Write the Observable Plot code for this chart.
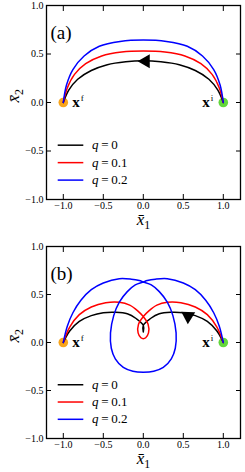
<!DOCTYPE html>
<html>
<head>
<meta charset="utf-8">
<script src="https://cdn.jsdelivr.net/npm/d3@7"></script>
<script src="https://cdn.jsdelivr.net/npm/@observablehq/plot@0.6"></script>
<style>
  html, body { margin: 0; padding: 0; background: white; }
  #chart { width: 245px; }
  #chart svg { display: block; }
  #chart svg text { font-family: "Liberation Serif", "DejaVu Serif", serif !important; }
</style>
</head>
<body>
<div id="chart"></div>
<script>
// ---------- data ----------
const xTicks = [-1, -0.5, 0, 0.5, 1];
const yTicks = [-1, -0.5, 0, 0.5, 1];
const qLabels = ["q = 0", "q = 0.1", "q = 0.2"];
const qColors = ["black", "red", "blue"];
const panelLabels = ["(a)", "(b)"];

// panel (a) trajectories [x1, x2]
const a_q0 = [[1,0],[0.93,0.13],[0.82,0.24],[0.65,0.33],[0.45,0.39],[0.22,0.42],[0,0.43],[-0.22,0.42],[-0.45,0.39],[-0.65,0.33],[-0.82,0.24],[-0.93,0.13],[-1,0]];
const a_q1 = [[1,0],[0.95,0.15],[0.86,0.29],[0.72,0.40],[0.52,0.48],[0.27,0.52],[0,0.53],[-0.27,0.52],[-0.52,0.48],[-0.72,0.40],[-0.86,0.29],[-0.95,0.15],[-1,0]];
const a_q2 = [[1,0],[0.96,0.18],[0.88,0.34],[0.74,0.48],[0.55,0.58],[0.29,0.63],[0,0.645],[-0.29,0.63],[-0.55,0.58],[-0.74,0.48],[-0.88,0.34],[-0.96,0.18],[-1,0]];

// panel (b) trajectories
const b_q0 = [[1,0],[0.92,0.12],[0.8,0.22],[0.65,0.28],[0.5,0.31],[0.35,0.315],[0.2,0.3],[0.09,0.25],[0,0.18],[0,0.11],[0,0.18],[-0.09,0.25],[-0.2,0.3],[-0.35,0.315],[-0.5,0.31],[-0.65,0.28],[-0.8,0.22],[-0.92,0.12],[-1,0]];
const b_q1 = [[1,0],[0.92,0.16],[0.8,0.29],[0.65,0.37],[0.47,0.415],[0.3,0.42],[0.17,0.39],[0.07,0.33],[0,0.27],[-0.06,0.19],[-0.065,0.1],[-0.03,0.05],[0,0.04],[0.03,0.05],[0.065,0.1],[0.06,0.19],[0,0.27],[-0.07,0.33],[-0.17,0.39],[-0.3,0.42],[-0.47,0.415],[-0.65,0.37],[-0.8,0.29],[-0.92,0.16],[-1,0]];
const b_q2 = [[1,0],[0.95,0.17],[0.88,0.31],[0.78,0.44],[0.65,0.55],[0.5,0.62],[0.3,0.665],[0.15,0.66],[0.05,0.645],[0,0.63],[-0.1,0.6],[-0.2,0.53],[-0.3,0.42],[-0.37,0.28],[-0.41,0.1],[-0.4,-0.06],[-0.35,-0.17],[-0.25,-0.26],[-0.13,-0.30],[0,-0.31],[0.13,-0.30],[0.25,-0.26],[0.35,-0.17],[0.4,-0.06],[0.41,0.1],[0.37,0.28],[0.3,0.42],[0.2,0.53],[0.1,0.6],[0,0.63],[-0.05,0.645],[-0.15,0.66],[-0.3,0.665],[-0.5,0.62],[-0.65,0.55],[-0.78,0.44],[-0.88,0.31],[-0.95,0.17],[-1,0]];

// end points
const endX = [-1, 1];
const endY = [0, 0];
const endLabels = ["xf", "xi"];
const endColors = ["#f9a51c", "#62d63c"];

// direction arrows (x, y, rotation in degrees)
const arrowA = {x: 0.03, y: 0.425, rotate: -90};
const arrowB = {x: 0.56, y: 0.275, rotate: 182};

// legend rows (data-space layout)
const legendY = [-0.44, -0.62, -0.80];
const legendX1 = -1.07, legendX2 = -0.75, legendTextX = -0.64;

// ---------- drawing ----------
function panel(label, curves, arrow, mt, mb) {
  const lines = curves.flatMap((c, i) => c.map(([x, y], j) => ({x, y, q: i, color: qColors[i], j})));
  const ends = endX.map((x, i) => ({x, y: endY[i], label: endLabels[i], color: endColors[i]}));
  const legend = qLabels.map((t, i) => ({t, y: legendY[i], color: qColors[i]}));
  const fmt = d3.format(".1f");
  const svg = Plot.plot({
    width: 245, height: 236,
    marginTop: mt, marginBottom: mb, marginLeft: 46, marginRight: 5,
    x: {domain: [-1.21, 1.215]},
    y: {domain: [-1, 1]},
    color: {type: "identity"},
    style: {fontFamily: "'Liberation Serif', serif", fontSize: "9.5px", color: "black", background: "white", overflow: "visible"},
    marks: [
      Plot.axisX(xTicks, {anchor: "bottom", tickSize: -5, tickPadding: 7, tickFormat: fmt, label: null, fontSize: 10}),
      Plot.axisX(xTicks, {anchor: "top", tickSize: -5, tickFormat: () => "", label: null}),
      Plot.axisY(yTicks, {anchor: "left", tickSize: -5, tickPadding: 8, tickFormat: fmt, label: null, fontSize: 10}),
      Plot.axisY(yTicks, {anchor: "right", tickSize: -5, tickFormat: () => "", label: null}),
      Plot.dot(ends, {x: "x", y: "y", r: 4.8, fill: "color"}),
      Plot.line(lines, {x: "x", y: "y", z: "q", stroke: "color", strokeWidth: 1.5, curve: "catmull-rom"}),
      Plot.dot([arrow], {x: "x", y: "y", symbol: "triangle", r: 5.2, fill: "black", rotate: "rotate"}),
      Plot.link(legend, {x1: legendX1, x2: legendX2, y1: "y", y2: "y", stroke: "color", strokeWidth: 1.5}),
      Plot.text(legend, {x: legendTextX, y: "y", text: "t", textAnchor: "start", fontSize: 13}),
      Plot.text([ends[0]], {x: "x", y: "y", text: "label", textAnchor: "start", dx: 9, fontSize: 15}),
      Plot.text([ends[1]], {x: "x", y: "y", text: "label", textAnchor: "end", dx: -10, fontSize: 15}),
      Plot.frame({stroke: "black", strokeWidth: 1.3}),
      Plot.text([label], {frameAnchor: "top-left", dx: 4, dy: 20, textAnchor: "start", fontSize: 19}),
      Plot.text(["xbar1"], {frameAnchor: "bottom", dy: 25, fontSize: 17}),
      Plot.text(["xbar2"], {frameAnchor: "left", dx: -33, rotate: -90, fontSize: 17})
    ]
  });
  svg.setAttribute("font-family", "Liberation Serif, DejaVu Serif, serif");
  // rich text formatting
  const rich = {
    "xf": '<tspan font-weight="bold">x</tspan><tspan font-size="0.6em" dy="-0.65em" dx="1">f</tspan>',
    "xi": '<tspan font-weight="bold">x</tspan><tspan font-size="0.6em" dy="-0.65em" dx="1">i</tspan>',
    "xbar1": '<tspan font-style="italic">x\u0304</tspan><tspan font-size="0.7em" dy="0.35em">1</tspan>',
    "xbar2": '<tspan font-style="italic">x\u0304</tspan><tspan font-size="0.7em" dy="0.35em">2</tspan>'
  };
  svg.querySelectorAll("text").forEach(t => {
    const s = t.textContent;
    if (rich[s]) t.innerHTML = rich[s];
    else if (s.startsWith("q = ")) t.innerHTML = '<tspan font-style="italic">q</tspan>\u2009=\u2009' + s.slice(4);
  });
  return svg;
}

const chart = document.getElementById("chart");
chart.append(panel(panelLabels[0], [a_q0, a_q1, a_q2], arrowA, 5, 37));
chart.append(panel(panelLabels[1], [b_q0, b_q1, b_q2], arrowB, 10, 34));
</script>
</body>
</html>
